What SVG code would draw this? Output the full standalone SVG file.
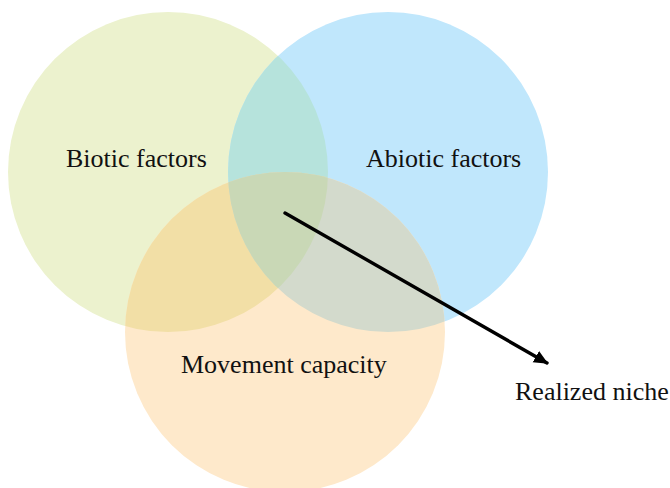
<svg xmlns="http://www.w3.org/2000/svg" width="670" height="488" viewBox="0 0 670 488">
  <defs>
    <clipPath id="clipG"><circle cx="168" cy="172" r="160"/></clipPath>
    <clipPath id="clipB"><circle cx="388" cy="172" r="160"/></clipPath>
    <clipPath id="clipO"><circle cx="285" cy="332" r="160"/></clipPath>
    <marker id="head" viewBox="0 0 10 10" refX="9" refY="5" markerWidth="4.2" markerHeight="4.2" orient="auto" markerUnits="strokeWidth">
      <path d="M0,0.5 L10,5 L0,9.5 Z" fill="#000"/>
    </marker>
  </defs>
  <style>
    .lbl { font-family: "Liberation Serif", "Times New Roman", serif; font-size: 26px; fill: #111; }
  </style>
  <rect width="670" height="488" fill="#fff"/>

  <!-- single sets -->
  <g id="biotic">
    <circle cx="168" cy="172" r="160" fill="#ECF2CE"/>
  </g>
  <g id="abiotic">
    <circle cx="388" cy="172" r="160" fill="#C0E7FC"/>
  </g>
  <g id="movement">
    <circle cx="285" cy="332" r="160" fill="#FEE9CB"/>
  </g>

  <!-- pairwise overlaps and triple intersection -->
  <g id="overlaps">
    <g clip-path="url(#clipG)"><circle cx="388" cy="172" r="160" fill="#B6E3DC"/></g>
    <g clip-path="url(#clipG)"><circle cx="285" cy="332" r="160" fill="#F2DFA6"/></g>
    <g clip-path="url(#clipB)"><circle cx="285" cy="332" r="160" fill="#D3DACC"/></g>
    <g clip-path="url(#clipG)"><g clip-path="url(#clipB)"><circle cx="285" cy="332" r="160" fill="#C9D8B6"/></g></g>
  </g>

  <!-- labels -->
  <g id="labels">
    <text class="lbl" x="66" y="167">Biotic factors</text>
    <text class="lbl" x="366" y="167">Abiotic factors</text>
    <text class="lbl" x="181" y="373">Movement capacity</text>
    <text class="lbl" x="515" y="400">Realized niche</text>
  </g>

  <!-- pointer to the realized niche -->
  <g id="connectors">
    <line x1="285" y1="213" x2="547" y2="363" stroke="#000" stroke-width="3.4" stroke-linecap="round" marker-end="url(#head)"/>
  </g>
</svg>
